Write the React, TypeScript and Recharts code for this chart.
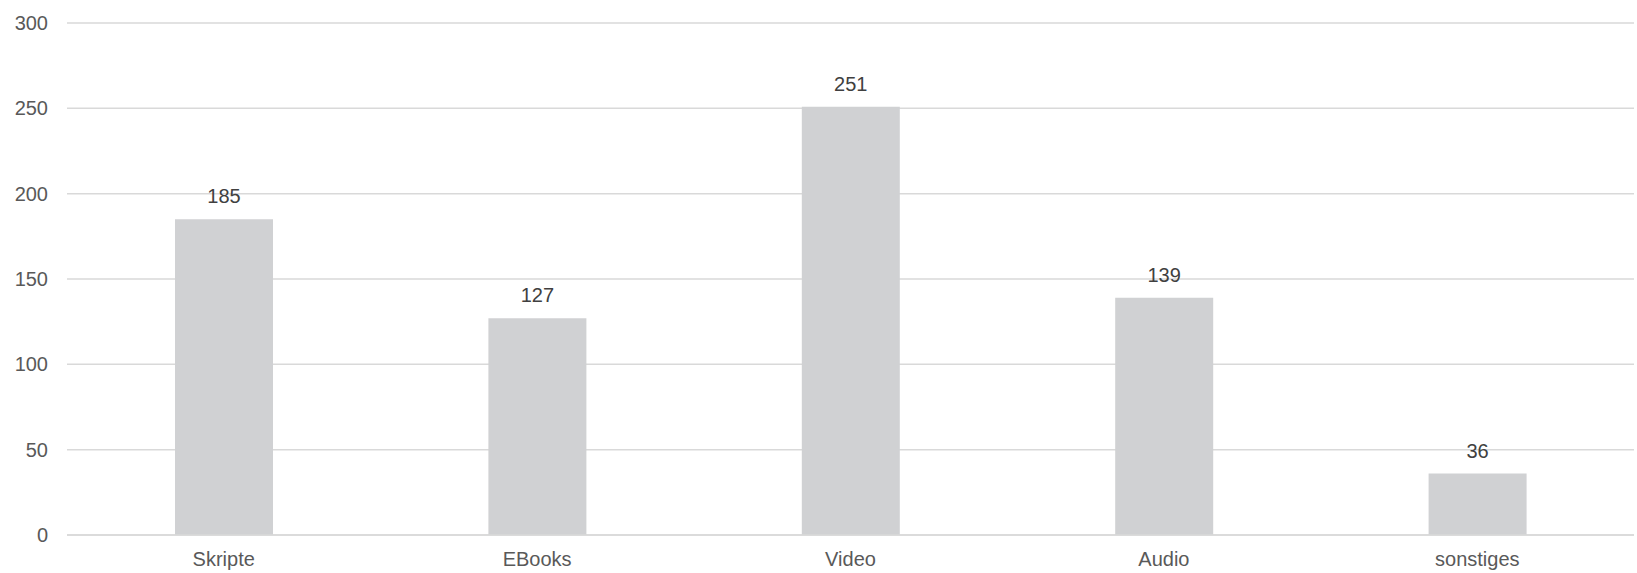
import { BarChart, Bar, XAxis, YAxis, CartesianGrid, LabelList } from "recharts";

const categories = ["Skripte", "EBooks", "Video", "Audio", "sonstiges"];
const counts = [185, 127, 251, 139, 36];
const yTicks = [0, 50, 100, 150, 200, 250, 300];

const data = categories.map((name, i) => ({ name, count: counts[i] }));

const font = "'Liberation Sans', Arial, sans-serif";

export default function App() {
    return (
        <div style={{ position: "absolute", left: 0, top: 0, fontFamily: font }}>
            <BarChart
                width={1637}
                height={573}
                data={data}
                margin={{ top: 23, right: 3, left: 0, bottom: 0 }}
            >
                <CartesianGrid vertical={false} stroke="#d9d9d9" strokeWidth={1.5} />
                <XAxis
                    dataKey="name"
                    height={38}
                    tickLine={false}
                    tickSize={0}
                    tickMargin={17}
                    axisLine={{ stroke: "#d9d9d9", strokeWidth: 1.5 }}
                    tick={{ fill: "#595959", fontSize: 20, fontFamily: font }}
                />
                <YAxis
                    width={67}
                    domain={[0, 300]}
                    ticks={yTicks}
                    axisLine={false}
                    tickLine={false}
                    tickSize={0}
                    tickMargin={19}
                    tick={{ fill: "#595959", fontSize: 20, fontFamily: font }}
                />
                <Bar dataKey="count" fill="#d0d1d3" barSize={98} isAnimationActive={false}>
                    <LabelList
                        dataKey="count"
                        position="top"
                        offset={16}
                        fill="#404040"
                        fontSize={20}
                        fontFamily={font}
                    />
                </Bar>
            </BarChart>
        </div>
    );
}
